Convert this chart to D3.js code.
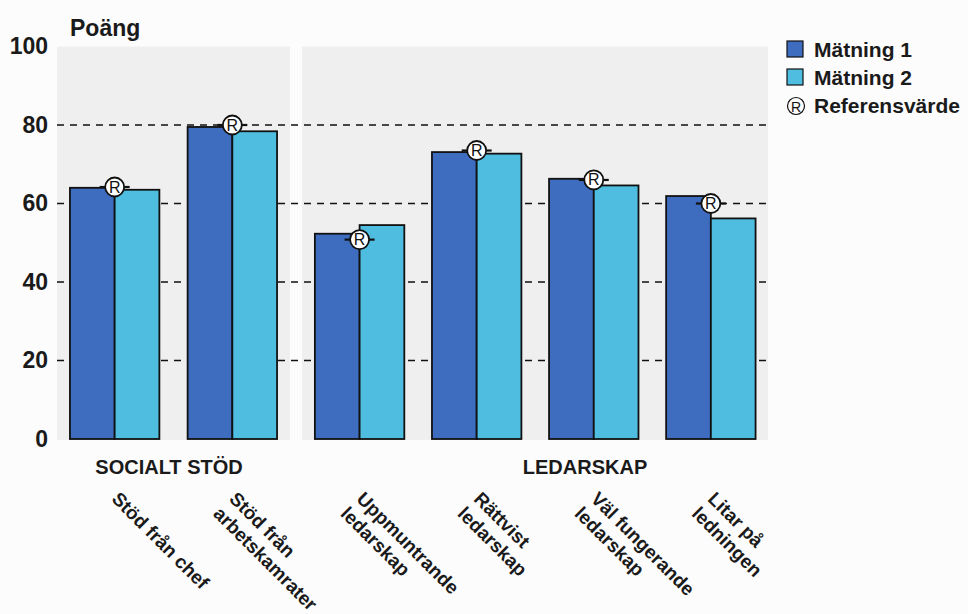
<!DOCTYPE html>
<html>
<head>
<meta charset="utf-8">
<script src="https://cdn.jsdelivr.net/npm/d3@7"></script>
<style>
  body { margin: 0; background: #fcfcfc; }
  text { font-family: "Liberation Sans", Arial, sans-serif; }
</style>
</head>
<body>
<svg width="968" height="614"></svg>
<script>
// data
let socialCats = ["Stöd från chef", "Stöd från\narbetskamrater"];
let leaderCats = ["Uppmuntrande\nledarskap", "Rättvist\nledarskap", "Väl fungerande\nledarskap", "Litar på\nledningen"];
let matning1 = [64, 79.5, 52.3, 73.1, 66.3, 61.9];
let matning2 = [63.5, 78.4, 54.5, 72.7, 64.6, 56.2];
let refValues = [64.2, 80, 50.8, 73.5, 66, 60];
let yTicks = [0, 20, 40, 60, 80, 100];
let seriesNames = ["Mätning 1", "Mätning 2"];
let groupNames = ["SOCIALT STÖD", "LEDARSKAP"];

let colors = ["#3e6dc0", "#4fbde0"];

var svg = d3.select('svg');

let plotTop = 46.5, plotBottom = 439;
let y = d3.scaleLinear().domain([0, 100]).range([plotBottom, plotTop]);

let leftPanel = {x0: 57, x1: 290}, rightPanel = {x0: 302, x1: 768};

let xLeft = d3.scaleBand().domain(socialCats)
    .range([leftPanel.x0, leftPanel.x1]).paddingInner(0.24).paddingOuter(0.11);
let xRight = d3.scaleBand().domain(leaderCats)
    .range([rightPanel.x0, rightPanel.x1]).paddingInner(0.24).paddingOuter(0.11);
let xSub = d3.scaleBand().domain([0, 1]).range([0, xLeft.bandwidth()]);

let allCats = socialCats.concat(leaderCats);
function groupX(i) {
    let c = allCats[i];
    return i < socialCats.length ? xLeft(c) : xRight(c);
}

// panel backgrounds
[leftPanel, rightPanel].forEach(p => {
    svg.append('rect')
        .attr('x', p.x0).attr('y', y(100))
        .attr('width', p.x1 - p.x0).attr('height', y(0) - y(100) + 1)
        .attr('fill', '#efefef');
});

// dashed grid lines
svg.selectAll('.grid')
    .data(yTicks.filter(t => t > 0 && t < 100))
    .enter().append('line')
    .attr('x1', leftPanel.x0).attr('x2', rightPanel.x1)
    .attr('y1', d => y(d)).attr('y2', d => y(d))
    .attr('stroke', '#111').attr('stroke-width', 1.6)
    .attr('stroke-dasharray', '7,6');

// y axis labels
let yAxis = d3.axisLeft(y).tickValues(yTicks).tickSize(0).tickPadding(0);
let yg = svg.append('g').attr('transform', 'translate(48,0)').call(yAxis);
yg.select('.domain').remove();
yg.selectAll('text')
    .attr('font-size', 23).attr('font-weight', 'bold').attr('fill', '#1a1a1a')
    .attr('font-family', '"Liberation Sans", Arial, sans-serif');

svg.append('text').attr('x', 70).attr('y', 36)
    .attr('font-size', 23).attr('font-weight', 'bold').attr('fill', '#1a1a1a')
    .text('Poäng');

// bars
let series = [matning1, matning2];
series.forEach((vals, s) => {
    svg.selectAll('.bar' + s)
        .data(vals)
        .enter().append('rect')
        .attr('x', (d, i) => groupX(i) + xSub(s))
        .attr('y', d => y(d))
        .attr('width', xSub.bandwidth())
        .attr('height', d => y(0) - y(d))
        .attr('fill', colors[s])
        .attr('stroke', '#111').attr('stroke-width', 1.8);
});

// reference markers
let refG = svg.selectAll('.ref')
    .data(refValues)
    .enter().append('g')
    .attr('transform', (d, i) => `translate(${groupX(i) + xSub.bandwidth()}, ${y(d)})`);
refG.append('line').attr('x1', -15).attr('x2', 15)
    .attr('stroke', '#111').attr('stroke-width', 2.2);
refG.append('circle').attr('r', 9.5)
    .attr('fill', '#fff').attr('stroke', '#111').attr('stroke-width', 1.8);
refG.append('text').attr('text-anchor', 'middle').attr('dy', 5.5)
    .attr('font-size', 16).attr('fill', '#111').text('R');

// group labels
let groupLabelX = [169, 585];
svg.selectAll('.glabel')
    .data(groupNames)
    .enter().append('text')
    .attr('x', (d, i) => groupLabelX[i]).attr('y', 474)
    .attr('text-anchor', 'middle')
    .attr('font-size', 20).attr('font-weight', 'bold').attr('fill', '#1a1a1a')
    .text(d => d);

// category labels (rotated)
let catLabels = svg.selectAll('.clabel')
    .data(allCats)
    .enter().append('text')
    .attr('transform', (d, i) => `translate(${groupX(i) + xSub.bandwidth() - 4}, 500) rotate(45)`)
    .attr('font-size', 19).attr('font-weight', 'bold').attr('fill', '#1a1a1a');
catLabels.each(function(d) {
    let lines = d.split('\n');
    let t = d3.select(this);
    lines.forEach((l, k) => {
        t.append('tspan').attr('x', k === 0 ? 0 : -1).attr('dy', k === 0 ? 0 : '1.15em').text(l);
    });
});

// legend
let legend = svg.append('g').attr('transform', 'translate(787, 0)');
seriesNames.forEach((name, s) => {
    legend.append('rect').attr('x', 0).attr('y', 41 + s * 28)
        .attr('width', 16).attr('height', 16)
        .attr('fill', colors[s]).attr('stroke', '#111').attr('stroke-width', 1.2);
    legend.append('text').attr('x', 27).attr('y', 57 + s * 28)
        .attr('font-size', 21).attr('font-weight', 'bold').attr('fill', '#1a1a1a')
        .text(name);
});
legend.append('circle').attr('cx', 9).attr('cy', 106).attr('r', 8.5)
    .attr('fill', 'none').attr('stroke', '#111').attr('stroke-width', 1.2);
legend.append('text').attr('x', 9).attr('y', 111.5).attr('text-anchor', 'middle')
    .attr('font-size', 14).attr('fill', '#111').text('R');
legend.append('text').attr('x', 27).attr('y', 113)
    .attr('font-size', 21).attr('font-weight', 'bold').attr('fill', '#1a1a1a')
    .text('Referensvärde');
</script>
</body>
</html>
